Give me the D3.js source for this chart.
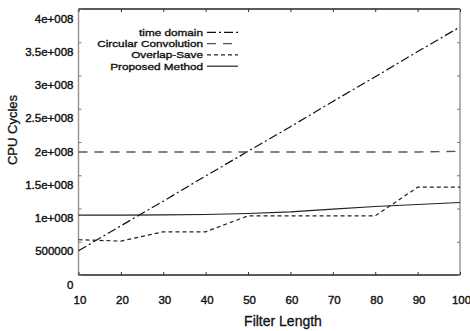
<!DOCTYPE html>
<html><head><meta charset="utf-8">
<script src="https://cdn.jsdelivr.net/npm/d3@7"></script>
<style>
body{margin:0;background:#fff;}
text{font-family:"Liberation Sans",Arial,sans-serif;fill:#111;}
</style></head>
<body><svg id="c" width="470" height="331"></svg>
<script>
const filterLength = [10,20,30,40,50,60,70,80,90,100];
const timeDomain   = [0.365e8,0.74e8,1.11e8,1.49e8,1.86e8,2.23e8,2.61e8,2.98e8,3.36e8,3.73e8];
const circularConv = [1.85e8,1.85e8,1.85e8,1.85e8,1.85e8,1.85e8,1.85e8,1.85e8,1.85e8,1.86e8];
const overlapSave  = [0.53e8,0.51e8,0.65e8,0.65e8,0.89e8,0.89e8,0.89e8,0.89e8,1.32e8,1.32e8];
const proposed     = [0.90e8,0.90e8,0.905e8,0.91e8,0.925e8,0.95e8,0.99e8,1.03e8,1.06e8,1.09e8];
const yTickValues  = [0,0.5e8,1e8,1.5e8,2e8,2.5e8,3e8,3.5e8,4e8];
const yTickLabels  = ["0","500000","1e+008","1.5e+008","2e+008","2.5e+008","3e+008","3.5e+008","4e+008"];
const xTickValues  = [10,20,30,40,50,60,70,80,90,100];
const seriesNames  = ["time domain","Circular Convolution","Overlap-Save","Proposed Method"];

const L=78.5,R=460,T=9,B=275;
const svg=d3.select("#c");
const x=d3.scaleLinear().domain([10,100]).range([L,R]);
const y=d3.scaleLinear().domain([0,4e8]).range([B,T]);

const styles=[
  {data:timeDomain,color:"#111",dash:"9,3,2,3",w:1.2},
  {data:circularConv,color:"#555",dash:"9,7",w:1.4},
  {data:overlapSave,color:"#222",dash:"4,3",w:1.2},
  {data:proposed,color:"#222",dash:null,w:1.2}
];

// frame
svg.append("line").attr("x1",L).attr("x2",R).attr("y1",T).attr("y2",T).attr("stroke","#222").attr("stroke-width",1.3);
svg.append("line").attr("x1",L).attr("x2",R).attr("y1",B).attr("y2",B).attr("stroke","#222").attr("stroke-width",1.5);
svg.append("line").attr("x1",L).attr("x2",L).attr("y1",T).attr("y2",B).attr("stroke","#999").attr("stroke-width",1.5);
svg.append("line").attr("x1",R).attr("x2",R).attr("y1",T).attr("y2",B).attr("stroke","#999").attr("stroke-width",1.5);

// y axis ticks (inward) + labels
const yl=svg.append("g").attr("transform",`translate(${L},0)`)
  .call(d3.axisRight(y).tickValues(yTickValues).tickSize(3).tickFormat(""));
yl.select(".domain").remove();
yl.selectAll(".tick line").attr("stroke","#777");
const yr=svg.append("g").attr("transform",`translate(${R},0)`)
  .call(d3.axisLeft(y).tickValues(yTickValues).tickSize(3).tickFormat(""));
yr.select(".domain").remove();
yr.selectAll(".tick line").attr("stroke","#777");
svg.append("g").selectAll("text").data(yTickValues).join("text")
  .attr("x",73.5).attr("y",d=>y(d)+9.5).attr("dy","0.35em")
  .attr("text-anchor","end").attr("font-size","11.5px")
  .attr("stroke","#111").attr("stroke-width",0.4)
  .text((d,i)=>yTickLabels[i]);

// x axis ticks
const xb=svg.append("g").attr("transform",`translate(0,${B})`)
  .call(d3.axisTop(x).tickValues(xTickValues).tickSize(3).tickFormat(""));
xb.select(".domain").remove();
xb.selectAll(".tick line").attr("stroke","#333");
const xt=svg.append("g").attr("transform",`translate(0,${T})`)
  .call(d3.axisBottom(x).tickValues(xTickValues).tickSize(3).tickFormat(""));
xt.select(".domain").remove();
xt.selectAll(".tick line").attr("stroke","#333");
svg.append("g").selectAll("text").data(xTickValues).join("text")
  .attr("x",d=>x(d)+1.5).attr("y",B+25).attr("dy","0.35em")
  .attr("text-anchor","middle").attr("font-size","11.5px")
  .attr("stroke","#111").attr("stroke-width",0.4)
  .text(d=>d);

// axis titles
svg.append("text").attr("x",283).attr("y",321).attr("dy","0.35em")
  .attr("text-anchor","middle").attr("font-size","14px").attr("stroke","#111").attr("stroke-width",0.3).text("Filter Length");
svg.append("text").attr("transform","translate(12.5,130) rotate(-90)").attr("dy","0.35em")
  .attr("text-anchor","middle").attr("font-size","13px").attr("stroke","#111").attr("stroke-width",0.3).text("CPU Cycles");

// series
const line=d3.line().x((d,i)=>x(filterLength[i])).y(d=>y(d));
styles.forEach(s=>{
  svg.append("path").datum(s.data).attr("d",line).attr("fill","none")
    .attr("stroke",s.color).attr("stroke-width",s.w)
    .attr("stroke-dasharray",s.dash);
});

// legend
const lg=svg.append("g");
seriesNames.forEach((n,i)=>{
  const yy=32.3+i*11.3;
  lg.append("text").attr("transform",`translate(203,${yy}) scale(1.2,1)`).attr("dy","0.35em")
    .attr("text-anchor","end").attr("font-size","9.8px")
    .attr("stroke","#111").attr("stroke-width",0.35).text(n);
  lg.append("line").attr("x1",207).attr("x2",238).attr("y1",yy).attr("y2",yy)
    .attr("stroke",styles[i].color).attr("stroke-width",styles[i].w)
    .attr("stroke-dasharray",styles[i].dash);
});
</script></body></html>
